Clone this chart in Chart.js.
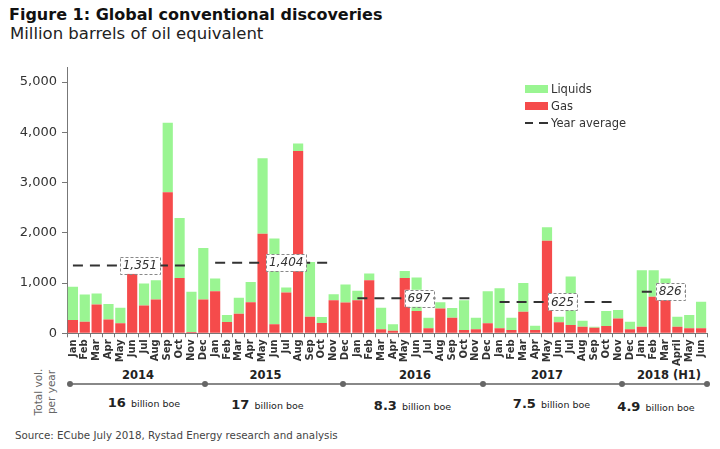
<!DOCTYPE html>
<html>
<head>
<meta charset="utf-8">
<script src="https://cdn.jsdelivr.net/npm/chart.js@4.4.0/dist/chart.umd.min.js"></script>
<style>
  body { margin: 0; background: #fff; font-family: "DejaVu Sans", Verdana, sans-serif; color: #222; }
  #wrap { position: relative; width: 720px; height: 449px; overflow: hidden; }
  .abs { position: absolute; white-space: nowrap; }
  #chart { position: absolute; left: 0; top: 50px; }
  .sw { position: absolute; width: 23px; height: 8px; }
</style>
</head>
<body>
<div id="wrap">
  <div class="abs" style="left:9px; top:6px; font-size:16px; line-height:18px; font-weight:bold; color:#111;">Figure 1: Global conventional discoveries</div>
  <div class="abs" style="left:10px; top:24px; font-size:16.5px; line-height:19px; color:#222;">Million barrels of oil equivalent</div>
  <canvas id="chart" width="720" height="316"></canvas>

  <!-- legend -->
  <div class="sw" style="left:525px; top:85px; background:#9af592;"></div>
  <div class="abs" style="left:551px; top:81px; font-size:11.5px; line-height:16px; color:#333;">Liquids</div>
  <div class="sw" style="left:525px; top:102px; background:#f54b4b;"></div>
  <div class="abs" style="left:551px; top:98px; font-size:11.5px; line-height:16px; color:#333;">Gas</div>
  <div class="abs" style="left:525px; top:122px; width:8px; height:2px; background:#333;"></div>
  <div class="abs" style="left:539px; top:122px; width:9px; height:2px; background:#333;"></div>
  <div class="abs" style="left:551px; top:115px; font-size:11.5px; line-height:16px; color:#333;">Year average</div>

  <div class="abs" style="left:19px; top:379px; width:52px; line-height:13px; font-size:10.5px; color:#666; text-align:center; transform:rotate(-90deg); transform-origin:26px 13px;">Total vol.<br>per year</div>
  <div id="timeline"></div>
  <div class="abs" style="left:15px; top:429px; font-size:10.3px; line-height:12px; color:#444;">Source: ECube July 2018, Rystad Energy research and analysis</div>
</div>
<script>
// month labels, 2014 - H1 2018
var months = [
  "Jan","Feb","Mar","Apr","May","Jun","Jul","Aug","Sep","Oct","Nov","Dec",
  "Jan","Feb","Mar","Apr","May","Jun","Jul","Aug","Sep","Oct","Nov","Dec",
  "Jan","Feb","Mar","Apr","May","Jun","Jul","Aug","Sep","Oct","Nov","Dec",
  "Jan","Feb","Mar","Apr","May","Jun","Jul","Aug","Sep","Oct","Nov","Dec",
  "Jan","Feb","Mar","April","May","Jun"
];

// million boe per month
var gas = [
  264, 231, 574, 277, 198, 1228, 554, 673, 2805, 1102, 26, 673,
  838, 224, 389, 620, 1980, 178, 812, 3630, 330, 205, 660, 614,
  660, 1056, 79, 53, 1102, 442, 99, 495, 310, 66, 79, 198,
  99, 66, 429, 66, 1841, 218, 165, 132, 112, 145, 297, 79,
  132, 726, 680, 132, 99, 99
];
var liquids = [
  660, 541, 218, 304, 310, 0, 436, 383, 1386, 1195, 799, 1023,
  251, 139, 317, 403, 1505, 1710, 99, 145, 1089, 118, 119, 356,
  185, 132, 429, 125, 139, 667, 211, 125, 192, 594, 231, 640,
  799, 244, 574, 86, 271, 112, 964, 119, 20, 297, 165, 152,
  1122, 528, 413, 198, 264, 528
];

var years = ["2014", "2015", "2016", "2017", "2018 (H1)"];
var yearAverages = [1351, 1404, 697, 625, 826];
var yearTotals = ["16", "17", "8.3", "7.5", "4.9"];
var yTicks = [0, 1000, 2000, 3000, 4000, 5000];

// dashed average line runs Jan..Nov (Jan..May for 2018)
function buildAverageLine() {
  var out = [];
  for (var i = 0; i < months.length; i++) {
    var y = Math.floor(i / 12);
    var m = i % 12;
    var lastMonth = (y === 4) ? 4 : 10;
    out.push(m <= lastMonth ? yearAverages[y] : null);
  }
  return out;
}

// where the boxed average labels sit (fractional category index)
var labelAnchors = [5.65, 18, 29.2, 41.3, 50.4];

var avgLabels = {
  id: "avgLabels",
  afterDatasetsDraw: function (chart) {
    var ctx = chart.ctx;
    var xs = chart.scales.x, ys = chart.scales.y;
    ctx.save();
    ctx.font = "italic 12px 'DejaVu Sans'";
    ctx.textAlign = "center";
    ctx.textBaseline = "middle";
    yearAverages.forEach(function (v, i) {
      var txt = v.toLocaleString("en-US");
      var x = xs.getPixelForValue(labelAnchors[i]);
      var y = ys.getPixelForValue(v);
      var w = ctx.measureText(txt).width + 6;
      var h = 17;
      ctx.fillStyle = "#fff";
      ctx.fillRect(x - w / 2, y - h / 2, w, h);
      ctx.setLineDash([3, 2]);
      ctx.strokeStyle = "#888";
      ctx.lineWidth = 1;
      ctx.strokeRect(Math.round(x - w / 2) + 0.5, Math.round(y - h / 2) + 0.5, Math.round(w), h);
      ctx.setLineDash([]);
      ctx.fillStyle = "#333";
      ctx.fillText(txt, x, y + 0.5);
    });
    ctx.restore();
  }
};

Chart.defaults.font.family = "'DejaVu Sans', Verdana, sans-serif";
Chart.defaults.color = "#333";

var ctx = document.getElementById("chart").getContext("2d");
var chart = new Chart(ctx, {
  type: "bar",
  data: {
    labels: months,
    datasets: [
      {
        type: "line",
        label: "Year average",
        data: buildAverageLine(),
        stack: "avg",
        borderColor: "#333",
        borderWidth: 2,
        borderDash: [10, 7],
        pointRadius: 0,
        spanGaps: false,
        order: 0
      },
      {
        label: "Gas",
        data: gas,
        backgroundColor: "#f54b4b",
        stack: "vol",
        order: 1,
        barPercentage: 0.86,
        categoryPercentage: 1
      },
      {
        label: "Liquids",
        data: liquids,
        backgroundColor: "#9af592",
        stack: "vol",
        order: 1,
        barPercentage: 0.86,
        categoryPercentage: 1
      }
    ]
  },
  options: {
    responsive: false,
    animation: false,
    layout: { padding: { top: 17, right: 13, left: 0, bottom: 0 } },
    plugins: {
      legend: { display: false },
      tooltip: { enabled: false }
    },
    scales: {
      x: {
        stacked: true,
        grid: { drawOnChartArea: false, drawTicks: true, tickLength: 4, color: "#777", offset: true },
        border: { display: true, color: "#777" },
        ticks: {
          autoSkip: false,
          maxRotation: 90,
          minRotation: 90,
          padding: 2,
          font: { size: 10, weight: "bold" },
          color: "#333"
        },
        afterFit: function (scale) { scale.height = 32.7; }
      },
      y: {
        stacked: true,
        min: 0,
        max: 5300,
        grid: { drawOnChartArea: false, drawTicks: true, tickLength: 5, color: "#777" },
        border: { display: true, color: "#777" },
        afterBuildTicks: function (scale) {
          scale.ticks = yTicks.map(function (v) { return { value: v }; });
        },
        ticks: {
          padding: 5,
          font: { size: 13 },
          color: "#333",
          callback: function (v) { return v.toLocaleString("en-US"); }
        },
        afterFit: function (scale) { scale.width = 67; }
      }
    }
  },
  plugins: [avgLabels]
});

// year strip below the axis
var yearLabelX = [138, 265.5, 415, 547, 669];
var totalX = [144, 267.5, 412.5, 551.5, 656];
var totalY = [402, 404, 405, 403, 406];
var dotX = [70, 205, 343, 483, 622, 707];
var tl = document.getElementById("timeline");
var html = '<div class="abs" style="left:70px; top:383px; width:637px; height:1.5px; background:#888;"></div>';
dotX.forEach(function (x) {
  html += '<div class="abs" style="left:' + (x - 3) + 'px; top:381px; width:6px; height:6px; border-radius:3px; background:#666;"></div>';
});
years.forEach(function (yr, i) {
  html += '<div class="abs" style="left:' + (yearLabelX[i] - 60) + 'px; top:367px; width:120px; text-align:center; font-size:11.5px; line-height:16px; font-weight:bold; color:#222;">' + yr + '</div>';
  html += '<div class="abs" style="left:' + (totalX[i] - 60) + 'px; top:' + (totalY[i] - 9) + 'px; width:120px; text-align:center; line-height:18px; color:#222;">' +
    '<span style="font-size:13px; font-weight:bold;">' + yearTotals[i] + '</span> <span style="font-size:9.5px;">billion boe</span></div>';
});
tl.innerHTML = html;
</script>
</body>
</html>
